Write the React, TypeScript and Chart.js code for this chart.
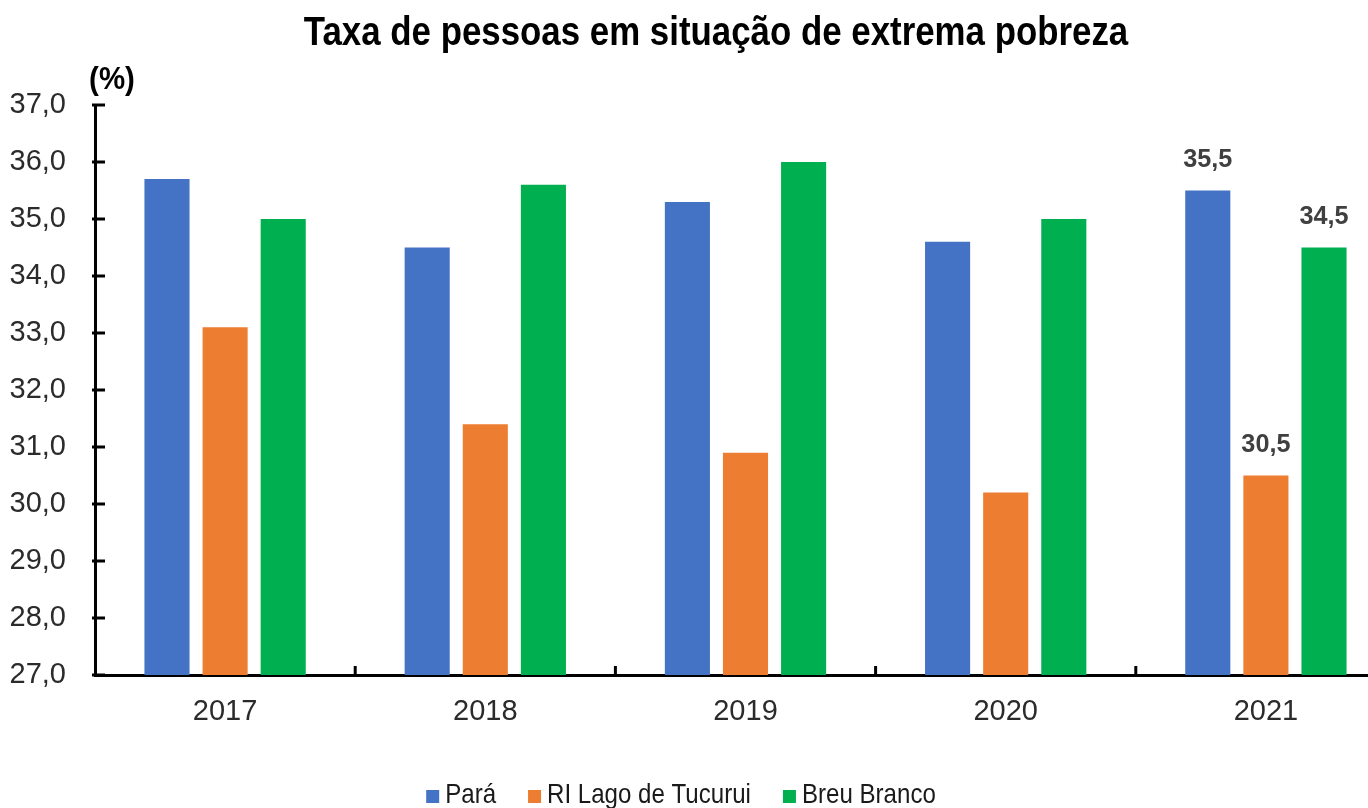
import React, { useEffect, useRef } from 'react';
import { Chart, registerables } from 'chart.js';

Chart.register(...registerables);

const years = ['2017', '2018', '2019', '2020', '2021'];
const para = [35.7, 34.5, 35.3, 34.6, 35.5];
const riLago = [33.1, 31.4, 30.9, 30.2, 30.5];
const breuBranco = [35.0, 35.6, 36.0, 35.0, 34.5];
const seriesNames = ['Pará', 'RI Lago de Tucurui', 'Breu Branco'];
const seriesColors = ['#4472C4', '#ED7D31', '#00B050'];
const yMin = 27;
const yMax = 37;
const yStep = 1;
const labeledYear = '2021';
const chartTitle = 'Taxa de pessoas em situação de extrema pobreza';
const unitLabel = '(%)';

const FONT = "'Liberation Sans', Arial, sans-serif";

const CANVAS_W = 1432;
const CANVAS_H = 808;

const fmt = (v: number) => v.toFixed(1).replace('.', ',');

function scaledText(ctx: CanvasRenderingContext2D, text: string, x: number, y: number, sx: number) {
  ctx.save();
  ctx.translate(x, y);
  ctx.scale(sx, 1);
  ctx.fillText(text, 0, 0);
  ctx.restore();
}

const decorPlugin = {
  id: 'decor',
  afterDraw(chart: any) {
    const { ctx, chartArea } = chart;
    const xs = chart.scales.x;
    const ys = chart.scales.y;
    ctx.save();
    // inner tick marks on y axis
    ctx.strokeStyle = '#000';
    ctx.lineWidth = 3;
    ys.ticks.forEach((t: any) => {
      const y = ys.getPixelForValue(t.value);
      ctx.beginPath();
      ctx.moveTo(chartArea.left - 3, y);
      ctx.lineTo(chartArea.left + 10, y);
      ctx.stroke();
    });
    // inner tick marks on x axis at category boundaries
    const n = years.length;
    for (let i = 1; i <= n; i++) {
      const x = xs.left + (i * xs.width) / n;
      ctx.beginPath();
      ctx.moveTo(x, chartArea.bottom);
      ctx.lineTo(x, chartArea.bottom - 9);
      ctx.stroke();
    }
    // title
    ctx.fillStyle = '#000';
    ctx.font = `bold 41px ${FONT}`;
    ctx.textAlign = 'center';
    ctx.textBaseline = 'alphabetic';
    scaledText(ctx, chartTitle, 716, 45, 0.85);
    // unit label
    ctx.font = `bold 31px ${FONT}`;
    scaledText(ctx, unitLabel, 112, 89, 0.95);
    // data labels for the labeled year
    const idx = years.indexOf(labeledYear);
    ctx.font = `bold 26px ${FONT}`;
    ctx.fillStyle = '#404040';
    chart.data.datasets.forEach((ds: any, d: number) => {
      const el = chart.getDatasetMeta(d).data[idx];
      if (!el) return;
      scaledText(ctx, fmt(ds.data[idx]), el.x, el.y - 24, 0.97);
    });
    // legend
    const sx = 0.86;
    ctx.font = `28px ${FONT}`;
    ctx.textAlign = 'left';
    const box = 13;
    const gap = 6;
    const spacing = 32;
    const widths = chart.data.datasets.map((ds: any) => ctx.measureText(ds.label).width * sx);
    const total = widths.reduce((a: number, w: number) => a + box + gap + w, 0) + spacing * (widths.length - 1);
    let x = 681 - total / 2;
    const baseY = 803;
    chart.data.datasets.forEach((ds: any, d: number) => {
      ctx.fillStyle = ds.backgroundColor;
      ctx.fillRect(x, baseY - box, box, box);
      ctx.fillStyle = '#1a1a1a';
      scaledText(ctx, ds.label, x + box + gap, baseY, sx);
      x += box + gap + widths[d] + spacing;
    });
    ctx.restore();
  },
};

export default function App() {
  const ref = useRef<HTMLCanvasElement | null>(null);
  useEffect(() => {
    if (!ref.current) return;
    const seriesValues = [para, riLago, breuBranco];
    const chart = new Chart(ref.current, {
      type: 'bar',
      data: {
        labels: years,
        datasets: seriesNames.map((name, i) => ({
          label: name,
          data: seriesValues[i],
          backgroundColor: seriesColors[i],
          borderWidth: 0,
          categoryPercentage: 0.67,
          barPercentage: 0.776,
        })),
      },
      options: {
        animation: false,
        responsive: false,
        maintainAspectRatio: false,
        layout: { padding: { top: 105, right: CANVAS_W - 1396, left: 0, bottom: 0 } },
        plugins: {
          legend: { display: false },
          title: { display: false },
          tooltip: { enabled: false },
        },
        scales: {
          x: {
            grid: { drawOnChartArea: false, drawTicks: false },
            border: { display: true, color: '#000', width: 3 },
            ticks: {
              color: '#2b2b2b',
              font: { family: FONT, size: 29 },
              padding: 20,
            },
            afterFit: (s: any) => {
              s.height = 133;
            },
          },
          y: {
            min: yMin,
            max: yMax,
            grid: { drawOnChartArea: false, drawTicks: false },
            border: { display: true, color: '#000', width: 3 },
            ticks: {
              stepSize: yStep,
              color: '#2b2b2b',
              font: { family: FONT, size: 29 },
              padding: 29,
              callback: (v: any) => fmt(Number(v)),
            },
            afterFit: (s: any) => {
              s.width = 95;
            },
          },
        },
      },
      plugins: [decorPlugin],
    });
    return () => chart.destroy();
  }, []);
  return (
    <div style={{ position: 'absolute', left: 0, top: 0, width: 1368, height: 808, overflow: 'hidden', background: '#fff' }}>
      <canvas ref={ref} width={CANVAS_W} height={CANVAS_H} style={{ width: CANVAS_W, height: CANVAS_H, display: 'block' }} />
    </div>
  );
}
